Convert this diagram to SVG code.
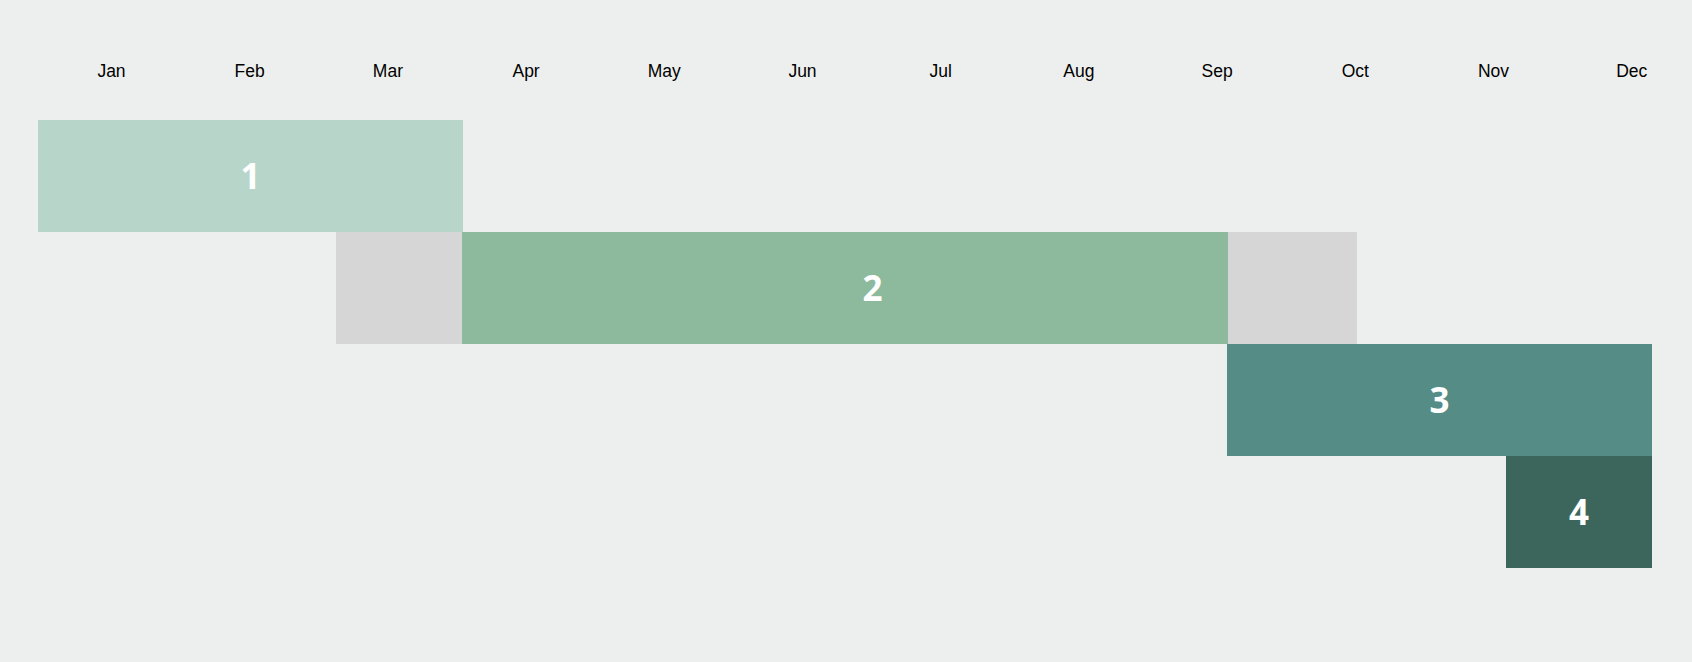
<svg xmlns="http://www.w3.org/2000/svg" width="1692" height="662" viewBox="0 0 1692 662">
<style>
.m{font-family:"Liberation Sans",Arial,sans-serif;font-size:17.5px;fill:#000;text-anchor:middle}
.n{font-family:"Open Sans","DejaVu Sans",sans-serif;font-weight:700;font-size:35px;fill:#fff;text-anchor:middle}
.slack{fill:#d6d6d6}
</style>
<rect width="1692" height="662" fill="#edefee"/>
<g id="months">
<text class="m" x="111.5" y="77">Jan</text>
<text class="m" x="249.7" y="77">Feb</text>
<text class="m" x="387.9" y="77">Mar</text>
<text class="m" x="526.1" y="77">Apr</text>
<text class="m" x="664.3" y="77">May</text>
<text class="m" x="802.5" y="77">Jun</text>
<text class="m" x="940.7" y="77">Jul</text>
<text class="m" x="1078.9" y="77">Aug</text>
<text class="m" x="1217.1" y="77">Sep</text>
<text class="m" x="1355.3" y="77">Oct</text>
<text class="m" x="1493.5" y="77">Nov</text>
<text class="m" x="1631.7" y="77">Dec</text>
</g>
<g id="connectors"></g>
<g id="task1">
<rect x="38" y="120" width="425" height="112" fill="#b8d5c9"/>
<text class="n" x="250.5" y="189">1</text>
</g>
<g id="task2">
<rect class="slack" x="336" y="232" width="126" height="112"/>
<rect class="slack" x="1228" y="232" width="129" height="112"/>
<rect x="462" y="232" width="766" height="112" fill="#8db99d"/>
<text class="n" x="872.5" y="301">2</text>
</g>
<g id="task3">
<rect x="1227" y="344" width="425" height="112" fill="#568c86"/>
<text class="n" x="1439.5" y="413">3</text>
</g>
<g id="task4">
<rect x="1506" y="456" width="146" height="112" fill="#3c665c"/>
<text class="n" x="1579" y="525">4</text>
</g>
</svg>
